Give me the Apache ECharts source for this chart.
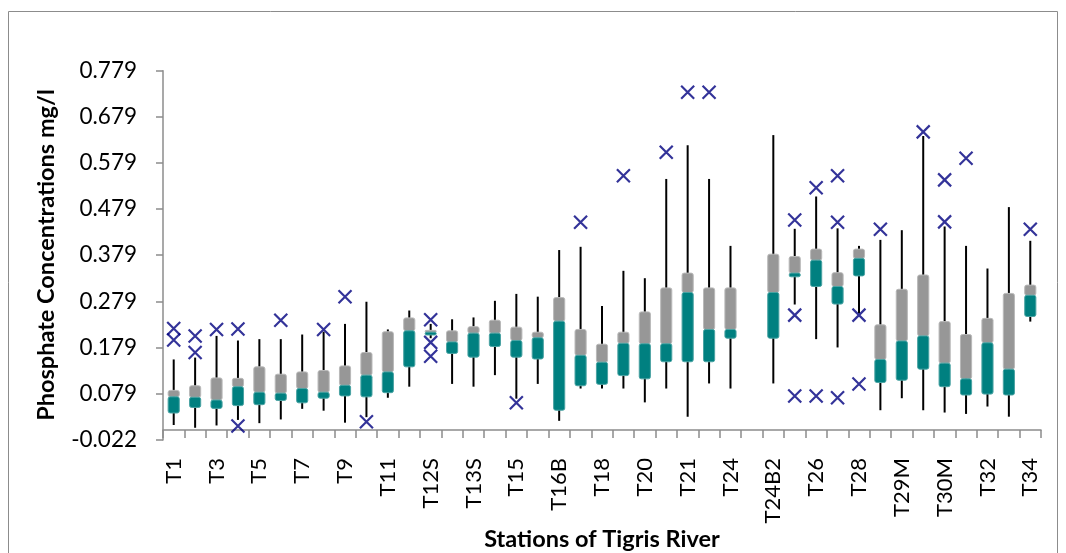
<!DOCTYPE html>
<html>
<head>
  <meta charset="utf-8">
  <title>Phosphate Concentrations</title>
  <script src="https://cdn.jsdelivr.net/npm/echarts@6/dist/echarts.min.js"></script>
  <style>
    html, body { margin: 0; padding: 0; background: #fff; }
    #chart { width: 1066px; height: 553px; }
  </style>
</head>
<body>
<div id="chart"></div>
<script type="text/javascript">
// stations (every other label is shown on the axis)
var stations = ['T1','T2','T3','T4','T5','T6','T7','T8','T9','T10',
  'T11','T12','T12S','T13','T13S','T14','T15','T16','T16B','T17',
  'T18','T19','T20','T20B','T21','T22','T24','T24B1','T24B2','T25',
  'T26','T27','T28','T29','T29M','T30','T30M','T31','T32','T33','T34'];

// box plot statistics, mg/l (null = no data)
var mins    = [0.011,0.005,0.010,0.022,0.015,0.023,0.046,0.042,0.016,0.028,
  0.070,0.094,0.199,0.100,0.094,0.119,0.068,0.100,0.020,0.090,
  0.090,0.090,0.060,0.090,0.029,0.101,0.090,null,0.101,0.272,
  0.197,0.179,0.253,0.043,0.069,0.043,0.038,0.035,0.051,0.029,0.235];
var q1s     = [0.037,0.049,0.047,0.053,0.055,0.064,0.059,0.069,0.074,0.072,
  0.081,0.137,0.206,0.166,0.158,0.181,0.158,0.154,0.043,0.096,
  0.099,0.118,0.111,0.148,0.148,0.148,0.199,null,0.199,0.332,
  0.311,0.273,0.334,0.103,0.108,0.132,0.094,0.076,0.078,0.076,0.246];
var medians = [0.072,0.071,0.065,0.094,0.082,0.080,0.090,0.082,0.097,0.119,
  0.126,0.215,0.212,0.191,0.210,0.210,0.194,0.200,0.236,0.162,
  0.147,0.188,0.187,0.187,0.298,0.218,0.218,null,0.298,0.340,
  0.368,0.311,0.372,0.153,0.193,0.204,0.145,0.111,0.189,0.132,0.292];
var q3s     = [0.086,0.096,0.113,0.112,0.137,0.121,0.126,0.129,0.139,0.168,
  0.213,0.243,0.216,0.215,0.224,0.238,0.223,0.212,0.287,0.218,
  0.186,0.212,0.256,0.308,0.340,0.308,0.308,null,0.381,0.376,
  0.392,0.341,0.392,0.228,0.305,0.336,0.235,0.207,0.242,0.296,0.314];
var maxs    = [0.153,0.157,0.204,0.194,0.197,0.197,0.207,0.213,0.230,0.278,
  0.218,0.259,0.230,0.240,0.244,0.280,0.295,0.289,0.390,0.397,
  0.269,0.345,0.329,0.544,0.617,0.544,0.399,null,0.639,0.436,
  0.506,0.437,0.399,0.412,0.433,0.637,0.441,0.399,0.350,0.483,0.410];

// outliers: [station index, value]
var outliers = [
  [0,0.220],[0,0.195],[1,0.204],[1,0.168],[2,0.218],[3,0.219],[3,0.009],
  [5,0.238],[7,0.218],[8,0.289],[9,0.018],[12,0.239],[12,0.190],[12,0.160],
  [16,0.059],[19,0.450],[21,0.551],[23,0.602],[24,0.732],[25,0.732],
  [29,0.455],[29,0.249],[29,0.074],[30,0.525],[30,0.074],
  [31,0.551],[31,0.450],[31,0.070],[32,0.249],[32,0.100],[33,0.435],
  [35,0.646],[36,0.542],[36,0.451],[37,0.589],[40,0.435]];

// y axis
var yMin = -0.0215, yMax = 0.7785, yStep = 0.1;
var yTickLabels = ['-0.022','0.079','0.179','0.279','0.379','0.479','0.579','0.679','0.779'];

var boxRows = [];
for (var i = 0; i < stations.length; i++) {
  if (mins[i] === null) continue;
  boxRows.push([i, mins[i], q1s[i], medians[i], q3s[i], maxs[i]]);
}

var FONT = 'Lato';
var myChart = echarts.init(document.getElementById('chart'));

function renderBox(params, api) {
  var x = api.value(0);
  var pMin = api.coord([x, api.value(1)]);
  var pQ1 = api.coord([x, api.value(2)]);
  var pMed = api.coord([x, api.value(3)]);
  var pQ3 = api.coord([x, api.value(4)]);
  var pMax = api.coord([x, api.value(5)]);
  var w = api.size([1, 0])[0] * 0.52;
  var cx = pMin[0];
  return {
    type: 'group',
    children: [
      { type: 'line', shape: { x1: cx, y1: pMin[1], x2: cx, y2: pMax[1] },
        style: { stroke: '#000', lineWidth: 2 } },
      { type: 'rect', shape: { x: cx - w / 2, y: pQ3[1], width: w, height: pMed[1] - pQ3[1], r: 2 },
        style: { fill: '#979797', stroke: '#b9b9b9', lineWidth: 1 } },
      { type: 'rect', shape: { x: cx - w / 2, y: pMed[1], width: w, height: pQ1[1] - pMed[1], r: 2 },
        style: { fill: '#008080', stroke: '#4aa3a3', lineWidth: 1 } }
    ]
  };
}

var option = {
  animation: false,
  textStyle: { fontFamily: FONT },
  graphic: [
    { type: 'rect', shape: { x: 8.5, y: 11.5, width: 1049, height: 600 },
      style: { fill: 'none', stroke: '#8c8c8c', lineWidth: 1 }, silent: true },
    { type: 'text', x: 46, y: 255, rotation: Math.PI / 2,
      style: { text: 'Phosphate Concentrations mg/l', fontFamily: FONT, fontWeight: 'bold',
        fontSize: 23.5, fill: '#000', align: 'center', verticalAlign: 'middle' } },
    { type: 'text', x: 602, y: 539,
      style: { text: 'Stations of Tigris River', fontFamily: FONT, fontWeight: 'bold',
        fontSize: 23.5, fill: '#000', align: 'center', verticalAlign: 'middle' } }
  ],
  grid: { left: 163, right: 25, top: 70.7, bottom: 113, containLabel: false },
  xAxis: {
    type: 'category',
    data: stations,
    boundaryGap: true,
    axisLine: { lineStyle: { color: '#8c8c8c', width: 1.5 } },
    axisTick: { show: true, interval: 0, length: 8, lineStyle: { color: '#8c8c8c', width: 1.5 } },
    axisLabel: { interval: 1, rotate: 90, fontSize: 22, color: '#000', margin: 18, fontFamily: FONT },
    splitLine: { show: false }
  },
  yAxis: {
    type: 'value',
    min: yMin,
    max: yMax,
    interval: yStep,
    axisLine: { show: true, lineStyle: { color: '#8c8c8c', width: 1.5 } },
    axisTick: { show: true, length: 7, lineStyle: { color: '#8c8c8c', width: 1.5 } },
    axisLabel: {
      fontSize: 22.5, color: '#000', margin: 26, fontFamily: FONT,
      formatter: function (v) {
        var k = Math.round((v - yMin) / yStep);
        return yTickLabels[k] !== undefined ? yTickLabels[k] : '';
      }
    },
    splitLine: { show: false }
  },
  series: [
    {
      type: 'custom',
      renderItem: renderBox,
      data: boxRows,
      encode: { x: 0, y: [1, 2, 3, 4, 5] },
      z: 2
    },
    {
      type: 'scatter',
      data: outliers,
      symbol: 'path://M0,0L10,10M10,0L0,10',
      symbolSize: 13,
      itemStyle: { color: 'none', borderColor: '#000080', borderWidth: 2.2 },
      z: 3
    }
  ]
};
myChart.setOption(option);
</script>
</body>
</html>
